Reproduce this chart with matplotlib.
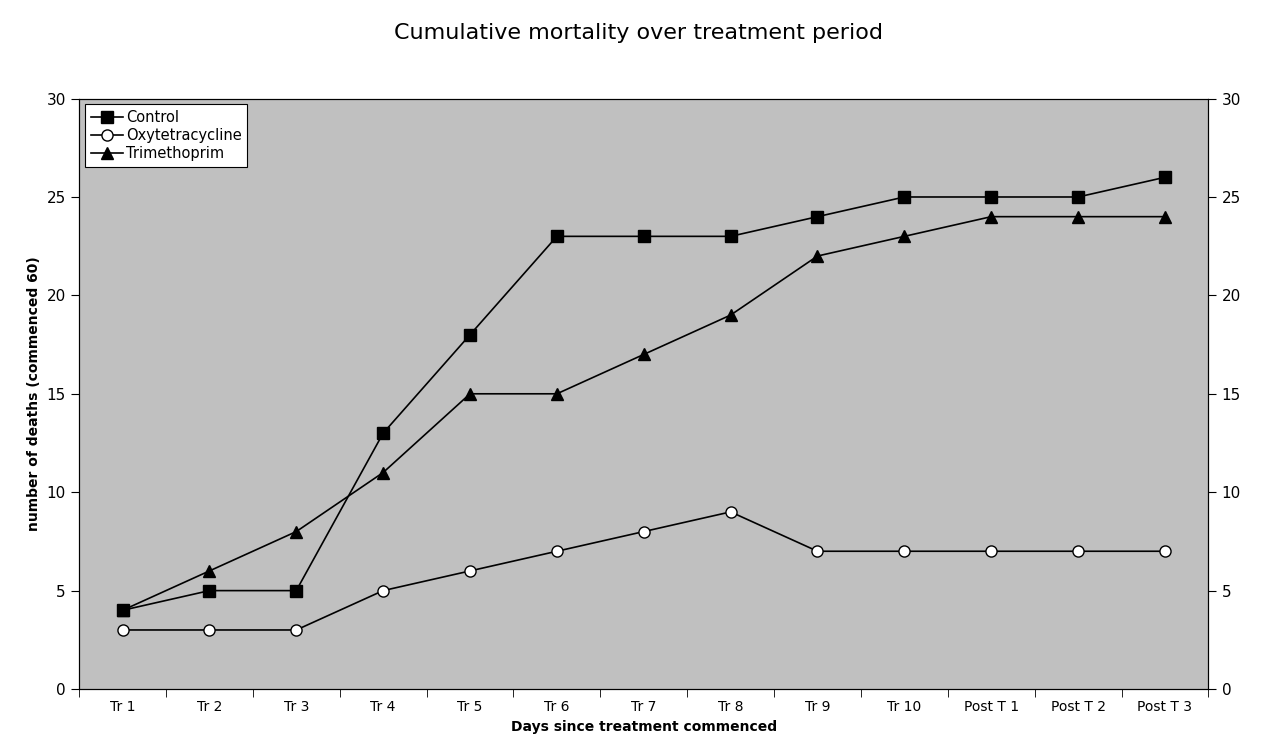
import matplotlib
matplotlib.use("Agg")
import matplotlib.pyplot as plt
from matplotlib.ticker import FixedLocator

categories = ["Tr 1","Tr 2","Tr 3","Tr 4","Tr 5","Tr 6","Tr 7","Tr 8","Tr 9","Tr 10","Post T 1","Post T 2","Post T 3"]
control = [4,5,5,13,18,23,23,23,24,25,25,25,26]
oxytetracycline = [3,3,3,5,6,7,8,9,7,7,7,7,7]
trimethoprim = [4,6,8,11,15,15,17,19,22,23,24,24,24]

fig = plt.figure(figsize=(12.76,7.56), dpi=100)
ax = fig.add_axes([0.062,0.0886,0.885,0.781])
ax.set_facecolor("#c0c0c0")
x = list(range(len(categories)))
ax.plot(x, control, color="black", marker="s", ms=8, lw=1.2, label="Control")
ax.plot(x, oxytetracycline, color="black", marker="o", ms=8, mfc="white", lw=1.2, label="Oxytetracycline")
ax.plot(x, trimethoprim, color="black", marker="^", ms=8, lw=1.2, label="Trimethoprim")
ax.set_xlim(-0.5, len(categories)-0.5)
ax.set_ylim(0,30)
ax.set_yticks(range(0,31,5))
ax.set_xticks(x)
ax.set_xticklabels(categories, fontsize=10)
ax.tick_params(axis="x", length=0, pad=8)
ax.xaxis.set_minor_locator(FixedLocator([i-0.5 for i in range(len(categories)+1)]))
ax.tick_params(axis="x", which="minor", length=6, direction="out")
ax.tick_params(axis="y", labelsize=11, direction="out", length=6)
ax2 = ax.twinx()
ax2.set_ylim(0,30)
ax2.set_yticks(range(0,31,5))
ax2.tick_params(axis="y", labelsize=11, direction="out", length=6)
ax.set_ylabel("number of deaths (commenced 60)", fontsize=10, fontweight="bold")
ax.set_xlabel("Days since treatment commenced", fontsize=10, fontweight="bold")
fig.suptitle("Cumulative mortality over treatment period", fontsize=16, y=0.97)
leg = ax.legend(loc="upper left", fontsize=10.5, frameon=True, fancybox=False, edgecolor="black",
                framealpha=1, borderaxespad=0.4, handlelength=2.2, handletextpad=0.2, labelspacing=0.2)
leg.get_frame().set_linewidth(0.8)
fig.savefig("out.png", dpi=100)
